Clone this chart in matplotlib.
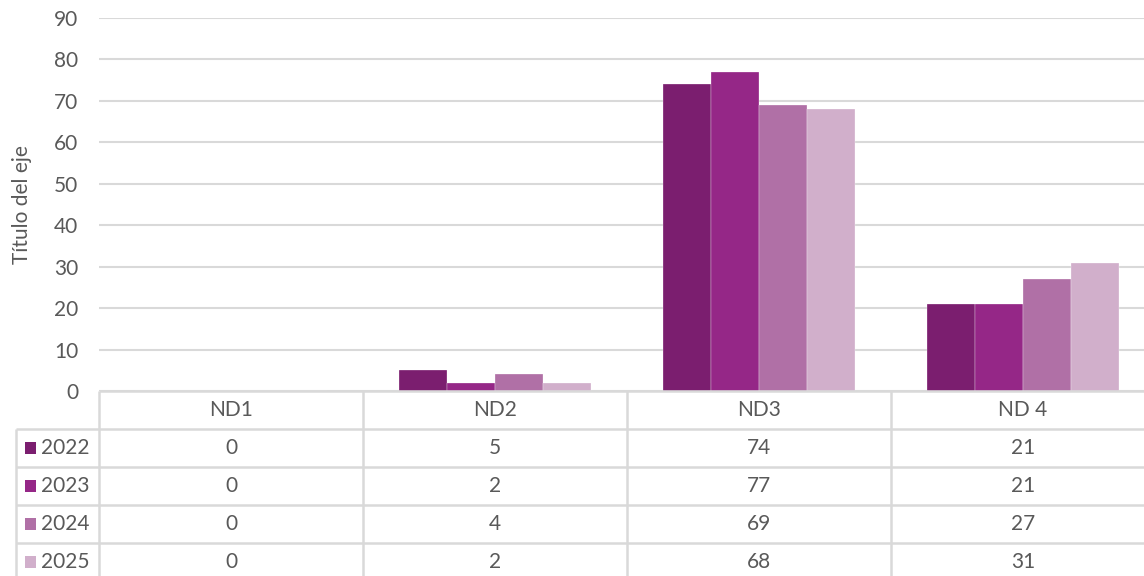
import matplotlib
matplotlib.use("Agg")
import matplotlib.pyplot as plt
from matplotlib.patches import Rectangle
import numpy as np

categories = ["ND1", "ND2", "ND3", "ND 4"]
series_names = ["2022", "2023", "2024", "2025"]
v2022 = [0, 5, 74, 21]
v2023 = [0, 2, 77, 21]
v2024 = [0, 4, 69, 27]
v2025 = [0, 2, 68, 31]
values = [v2022, v2023, v2024, v2025]
colors = ["#7B1E6F", "#952787", "#B070A6", "#D1AFCB"]
yticks = [0, 10, 20, 30, 40, 50, 60, 70, 80, 90]
ylabel = "Título del eje"

plt.rcParams['font.family'] = ['Lato', 'DejaVu Sans']
TXT = "#595959"
GRID = "#D9D9D9"
FS = 15

W, H = 1144, 576
fig = plt.figure(figsize=(W / 100, H / 100), dpi=100)

colw = 264.0
x0 = 99.0
top_px, base_px = 18.0, 391.0
ax = fig.add_axes([x0 / W, 1 - base_px / H, 4 * colw / W, (base_px - top_px) / H])
ax.set_xlim(0, 4)
ax.set_ylim(0, 90)
ax.set_yticks(yticks)
ax.set_yticklabels([str(t) for t in yticks], color=TXT, fontsize=FS)
ax.tick_params(axis='y', length=0, pad=15)
ax.set_xticks([])
for s in ax.spines.values():
    s.set_visible(False)
ax.grid(axis='y', color=GRID, lw=1.5)
ax.set_axisbelow(True)
ax.set_ylabel(ylabel, color=TXT, fontsize=FS)
ax.yaxis.set_label_coords(-67 / (4 * colw), 0.5)

n = len(series_names)
group = 0.727
bw = group / n
xc = np.arange(len(categories)) + 0.5
for i, (vals, c) in enumerate(zip(values, colors)):
    ax.bar(xc - group / 2 + bw * (i + 0.5), vals, width=bw, color=c,
           edgecolor="white", linewidth=0.2, zorder=3)

# table
legw = (x0 - 16.0) / colw
row_h = 38.0
nrows = len(series_names) + 1
tab_h = nrows * row_h
tax = fig.add_axes([16.0 / W, 1 - (base_px + tab_h) / H, (4 + legw) * colw / W, tab_h / H])
tax.set_xlim(-legw, 4)
tax.set_ylim(nrows, 0)
tax.axis('off')
lk = dict(color=GRID, lw=1.8, clip_on=False, solid_capstyle='butt')
tax.plot([0, 4], [0, 0], **lk)
for r in range(1, nrows):
    tax.plot([-legw, 4], [r, r], **lk)
for cidx in range(4):
    tax.plot([cidx, cidx], [0, nrows], **lk)
tax.plot([-legw, -legw], [1, nrows], **lk)

for j, cat in enumerate(categories):
    tax.text(j + 0.5, 0.5, cat, ha='center', va='center', color=TXT, fontsize=FS)
for i, (name, vals, c) in enumerate(zip(series_names, values, colors)):
    r = i + 1.5
    tax.add_patch(Rectangle((-legw + 9 / colw, r - 0.16), 11 / colw, 0.32,
                            facecolor=c, edgecolor='none', clip_on=False))
    tax.text(-legw + 25 / colw, r, name, ha='left', va='center', color=TXT, fontsize=FS)
    for j, v in enumerate(vals):
        tax.text(j + 0.5, r, str(v), ha='center', va='center', color=TXT, fontsize=FS)

fig.savefig("out.png", dpi=100, facecolor="white")
